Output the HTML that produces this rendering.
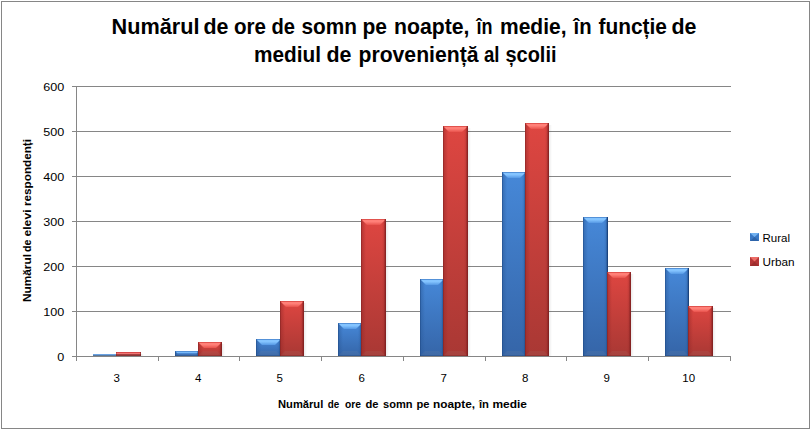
<!DOCTYPE html>
<html><head><meta charset="utf-8"><style>
html,body{margin:0;padding:0;background:#fff;width:811px;height:430px;overflow:hidden}
svg{display:block}
</style></head><body>
<svg width="811" height="430" viewBox="0 0 811 430">
<defs><linearGradient id="bbody" x1="0" y1="0" x2="0" y2="1"><stop offset="0" stop-color="#4688d8"/><stop offset="1" stop-color="#3565a8"/></linearGradient><linearGradient id="bleft" x1="0" y1="0" x2="1" y2="0"><stop offset="0" stop-color="#2a5a9a" stop-opacity="0.6"/><stop offset="1" stop-color="#2a5a9a" stop-opacity="0"/></linearGradient><linearGradient id="bright" x1="0" y1="0" x2="1" y2="0"><stop offset="0" stop-color="#2a5a9a" stop-opacity="0"/><stop offset="1" stop-color="#2a5a9a" stop-opacity="0.6"/></linearGradient><linearGradient id="bbev" x1="0" y1="0" x2="0" y2="1"><stop offset="0" stop-color="#84c4ff"/><stop offset="0.45" stop-color="#84c4ff"/><stop offset="1" stop-color="#5598e4"/></linearGradient><linearGradient id="rbody" x1="0" y1="0" x2="0" y2="1"><stop offset="0" stop-color="#de4641"/><stop offset="1" stop-color="#a93834"/></linearGradient><linearGradient id="rleft" x1="0" y1="0" x2="1" y2="0"><stop offset="0" stop-color="#962828" stop-opacity="0.6"/><stop offset="1" stop-color="#962828" stop-opacity="0"/></linearGradient><linearGradient id="rright" x1="0" y1="0" x2="1" y2="0"><stop offset="0" stop-color="#962828" stop-opacity="0"/><stop offset="1" stop-color="#962828" stop-opacity="0.6"/></linearGradient><linearGradient id="rbev" x1="0" y1="0" x2="0" y2="1"><stop offset="0" stop-color="#ff8078"/><stop offset="0.45" stop-color="#ff8078"/><stop offset="1" stop-color="#e8524c"/></linearGradient><linearGradient id="shadow" x1="0" y1="0" x2="1" y2="0"><stop offset="0" stop-color="#000" stop-opacity="0.08"/><stop offset="1" stop-color="#000" stop-opacity="0"/></linearGradient></defs>
<rect x="0" y="0" width="811" height="430" fill="#fff"/>
<rect x="1.5" y="1.5" width="808" height="427" fill="none" stroke="#868686" stroke-width="1"/>
<rect x="72" y="86" width="659" height="1" fill="#868686"/>
<rect x="72" y="131" width="659" height="1" fill="#868686"/>
<rect x="72" y="176" width="659" height="1" fill="#868686"/>
<rect x="72" y="221" width="659" height="1" fill="#868686"/>
<rect x="72" y="266" width="659" height="1" fill="#868686"/>
<rect x="72" y="311" width="659" height="1" fill="#868686"/>
<rect x="72" y="356" width="659" height="1" fill="#868686"/>
<rect x="76" y="86" width="1" height="275" fill="#868686"/>
<rect x="76" y="356" width="1" height="5" fill="#868686"/>
<rect x="158" y="356" width="1" height="5" fill="#868686"/>
<rect x="239" y="356" width="1" height="5" fill="#868686"/>
<rect x="321" y="356" width="1" height="5" fill="#868686"/>
<rect x="403" y="356" width="1" height="5" fill="#868686"/>
<rect x="485" y="356" width="1" height="5" fill="#868686"/>
<rect x="566" y="356" width="1" height="5" fill="#868686"/>
<rect x="648" y="356" width="1" height="5" fill="#868686"/>
<rect x="730" y="356" width="1" height="5" fill="#868686"/>
<rect x="141" y="354" width="3" height="2" fill="url(#shadow)"/>
<rect x="222" y="344" width="3" height="12" fill="url(#shadow)"/>
<rect x="304" y="303" width="3" height="53" fill="url(#shadow)"/>
<rect x="386" y="221" width="3" height="135" fill="url(#shadow)"/>
<rect x="468" y="128" width="3" height="228" fill="url(#shadow)"/>
<rect x="549" y="125" width="3" height="231" fill="url(#shadow)"/>
<rect x="631" y="274" width="3" height="82" fill="url(#shadow)"/>
<rect x="713" y="308" width="3" height="48" fill="url(#shadow)"/>
<rect x="93" y="354" width="24" height="1" fill="#6aa2e2"/><rect x="93" y="355" width="24" height="1" fill="#56789e"/>
<rect x="116" y="352" width="25" height="1" fill="#d84848"/><rect x="116" y="353" width="25" height="1" fill="#f27474"/><rect x="116" y="354" width="25" height="1" fill="#a44040"/><rect x="116" y="355" width="25" height="1" fill="#8a3434"/><rect x="140" y="352" width="1" height="4" fill="#741c1c" fill-opacity="0.6"/><rect x="116" y="352" width="1" height="4" fill="#741c1c" fill-opacity="0.3"/>
<rect x="175" y="351" width="24" height="5" fill="url(#bbody)"/><rect x="175" y="351" width="5" height="5" fill="url(#bleft)"/><rect x="195" y="351" width="4" height="5" fill="url(#bright)"/><polygon points="175,351 199,351 196.5,353.5 177.5,353.5" fill="url(#bbev)"/><rect x="175" y="351" width="24" height="1" fill="#3f7cc8" fill-opacity="0.7"/><polygon points="175,356 199,356 197.33333333333334,354.3333333333333 176.66666666666666,354.3333333333333" fill="#a0a0a0" fill-opacity="0.10"/><rect x="175" y="355" width="24" height="1" fill="#183f78" fill-opacity="0.35"/><rect x="198" y="351" width="1" height="5" fill="#183f78" fill-opacity="0.9"/><rect x="197" y="351" width="1" height="5" fill="#183f78" fill-opacity="0.25"/><rect x="175" y="351" width="1" height="5" fill="#183f78" fill-opacity="0.35"/>
<rect x="198" y="342" width="24" height="14" fill="url(#rbody)"/><rect x="198" y="342" width="5" height="14" fill="url(#rleft)"/><rect x="218" y="342" width="4" height="14" fill="url(#rright)"/><polygon points="198,342 222,342 216,348 204,348" fill="url(#rbev)"/><rect x="198" y="342" width="24" height="1" fill="#d43e3a" fill-opacity="0.7"/><polygon points="198,356 222,356 217.33333333333334,351.3333333333333 202.66666666666666,351.3333333333333" fill="#a0a0a0" fill-opacity="0.10"/><rect x="198" y="355" width="24" height="1" fill="#741c1c" fill-opacity="0.35"/><rect x="221" y="342" width="1" height="14" fill="#741c1c" fill-opacity="0.65"/><rect x="220" y="342" width="1" height="14" fill="#741c1c" fill-opacity="0.25"/><rect x="198" y="342" width="1" height="14" fill="#741c1c" fill-opacity="0.35"/>
<rect x="256" y="339" width="25" height="17" fill="url(#bbody)"/><rect x="256" y="339" width="5" height="17" fill="url(#bleft)"/><rect x="277" y="339" width="4" height="17" fill="url(#bright)"/><polygon points="256,339 281,339 275,345 262,345" fill="url(#bbev)"/><rect x="256" y="339" width="25" height="1" fill="#3f7cc8" fill-opacity="0.7"/><polygon points="256,356 281,356 276,351 261,351" fill="#a0a0a0" fill-opacity="0.10"/><rect x="256" y="355" width="25" height="1" fill="#183f78" fill-opacity="0.35"/><rect x="280" y="339" width="1" height="17" fill="#183f78" fill-opacity="0.9"/><rect x="279" y="339" width="1" height="17" fill="#183f78" fill-opacity="0.25"/><rect x="256" y="339" width="1" height="17" fill="#183f78" fill-opacity="0.35"/>
<rect x="280" y="301" width="24" height="55" fill="url(#rbody)"/><rect x="280" y="301" width="5" height="55" fill="url(#rleft)"/><rect x="300" y="301" width="4" height="55" fill="url(#rright)"/><polygon points="280,301 304,301 298,307 286,307" fill="url(#rbev)"/><rect x="280" y="301" width="24" height="1" fill="#d43e3a" fill-opacity="0.7"/><polygon points="280,356 304,356 299,351 285,351" fill="#a0a0a0" fill-opacity="0.10"/><rect x="280" y="355" width="24" height="1" fill="#741c1c" fill-opacity="0.35"/><rect x="303" y="301" width="1" height="55" fill="#741c1c" fill-opacity="0.65"/><rect x="302" y="301" width="1" height="55" fill="#741c1c" fill-opacity="0.25"/><rect x="280" y="301" width="1" height="55" fill="#741c1c" fill-opacity="0.35"/>
<rect x="338" y="323" width="24" height="33" fill="url(#bbody)"/><rect x="338" y="323" width="5" height="33" fill="url(#bleft)"/><rect x="358" y="323" width="4" height="33" fill="url(#bright)"/><polygon points="338,323 362,323 356,329 344,329" fill="url(#bbev)"/><rect x="338" y="323" width="24" height="1" fill="#3f7cc8" fill-opacity="0.7"/><polygon points="338,356 362,356 357,351 343,351" fill="#a0a0a0" fill-opacity="0.10"/><rect x="338" y="355" width="24" height="1" fill="#183f78" fill-opacity="0.35"/><rect x="361" y="323" width="1" height="33" fill="#183f78" fill-opacity="0.9"/><rect x="360" y="323" width="1" height="33" fill="#183f78" fill-opacity="0.25"/><rect x="338" y="323" width="1" height="33" fill="#183f78" fill-opacity="0.35"/>
<rect x="361" y="219" width="25" height="137" fill="url(#rbody)"/><rect x="361" y="219" width="5" height="137" fill="url(#rleft)"/><rect x="382" y="219" width="4" height="137" fill="url(#rright)"/><polygon points="361,219 386,219 380,225 367,225" fill="url(#rbev)"/><rect x="361" y="219" width="25" height="1" fill="#d43e3a" fill-opacity="0.7"/><polygon points="361,356 386,356 381,351 366,351" fill="#a0a0a0" fill-opacity="0.10"/><rect x="361" y="355" width="25" height="1" fill="#741c1c" fill-opacity="0.35"/><rect x="385" y="219" width="1" height="137" fill="#741c1c" fill-opacity="0.65"/><rect x="384" y="219" width="1" height="137" fill="#741c1c" fill-opacity="0.25"/><rect x="361" y="219" width="1" height="137" fill="#741c1c" fill-opacity="0.35"/>
<rect x="420" y="279" width="24" height="77" fill="url(#bbody)"/><rect x="420" y="279" width="5" height="77" fill="url(#bleft)"/><rect x="440" y="279" width="4" height="77" fill="url(#bright)"/><polygon points="420,279 444,279 438,285 426,285" fill="url(#bbev)"/><rect x="420" y="279" width="24" height="1" fill="#3f7cc8" fill-opacity="0.7"/><polygon points="420,356 444,356 439,351 425,351" fill="#a0a0a0" fill-opacity="0.10"/><rect x="420" y="355" width="24" height="1" fill="#183f78" fill-opacity="0.35"/><rect x="443" y="279" width="1" height="77" fill="#183f78" fill-opacity="0.9"/><rect x="442" y="279" width="1" height="77" fill="#183f78" fill-opacity="0.25"/><rect x="420" y="279" width="1" height="77" fill="#183f78" fill-opacity="0.35"/>
<rect x="443" y="126" width="25" height="230" fill="url(#rbody)"/><rect x="443" y="126" width="5" height="230" fill="url(#rleft)"/><rect x="464" y="126" width="4" height="230" fill="url(#rright)"/><polygon points="443,126 468,126 462,132 449,132" fill="url(#rbev)"/><rect x="443" y="126" width="25" height="1" fill="#d43e3a" fill-opacity="0.7"/><polygon points="443,356 468,356 463,351 448,351" fill="#a0a0a0" fill-opacity="0.10"/><rect x="443" y="355" width="25" height="1" fill="#741c1c" fill-opacity="0.35"/><rect x="467" y="126" width="1" height="230" fill="#741c1c" fill-opacity="0.65"/><rect x="466" y="126" width="1" height="230" fill="#741c1c" fill-opacity="0.25"/><rect x="443" y="126" width="1" height="230" fill="#741c1c" fill-opacity="0.35"/>
<rect x="502" y="172" width="24" height="184" fill="url(#bbody)"/><rect x="502" y="172" width="5" height="184" fill="url(#bleft)"/><rect x="522" y="172" width="4" height="184" fill="url(#bright)"/><polygon points="502,172 526,172 520,178 508,178" fill="url(#bbev)"/><rect x="502" y="172" width="24" height="1" fill="#3f7cc8" fill-opacity="0.7"/><polygon points="502,356 526,356 521,351 507,351" fill="#a0a0a0" fill-opacity="0.10"/><rect x="502" y="355" width="24" height="1" fill="#183f78" fill-opacity="0.35"/><rect x="525" y="172" width="1" height="184" fill="#183f78" fill-opacity="0.9"/><rect x="524" y="172" width="1" height="184" fill="#183f78" fill-opacity="0.25"/><rect x="502" y="172" width="1" height="184" fill="#183f78" fill-opacity="0.35"/>
<rect x="525" y="123" width="24" height="233" fill="url(#rbody)"/><rect x="525" y="123" width="5" height="233" fill="url(#rleft)"/><rect x="545" y="123" width="4" height="233" fill="url(#rright)"/><polygon points="525,123 549,123 543,129 531,129" fill="url(#rbev)"/><rect x="525" y="123" width="24" height="1" fill="#d43e3a" fill-opacity="0.7"/><polygon points="525,356 549,356 544,351 530,351" fill="#a0a0a0" fill-opacity="0.10"/><rect x="525" y="355" width="24" height="1" fill="#741c1c" fill-opacity="0.35"/><rect x="548" y="123" width="1" height="233" fill="#741c1c" fill-opacity="0.65"/><rect x="547" y="123" width="1" height="233" fill="#741c1c" fill-opacity="0.25"/><rect x="525" y="123" width="1" height="233" fill="#741c1c" fill-opacity="0.35"/>
<rect x="583" y="217" width="25" height="139" fill="url(#bbody)"/><rect x="583" y="217" width="5" height="139" fill="url(#bleft)"/><rect x="604" y="217" width="4" height="139" fill="url(#bright)"/><polygon points="583,217 608,217 602,223 589,223" fill="url(#bbev)"/><rect x="583" y="217" width="25" height="1" fill="#3f7cc8" fill-opacity="0.7"/><polygon points="583,356 608,356 603,351 588,351" fill="#a0a0a0" fill-opacity="0.10"/><rect x="583" y="355" width="25" height="1" fill="#183f78" fill-opacity="0.35"/><rect x="607" y="217" width="1" height="139" fill="#183f78" fill-opacity="0.9"/><rect x="606" y="217" width="1" height="139" fill="#183f78" fill-opacity="0.25"/><rect x="583" y="217" width="1" height="139" fill="#183f78" fill-opacity="0.35"/>
<rect x="607" y="272" width="24" height="84" fill="url(#rbody)"/><rect x="607" y="272" width="5" height="84" fill="url(#rleft)"/><rect x="627" y="272" width="4" height="84" fill="url(#rright)"/><polygon points="607,272 631,272 625,278 613,278" fill="url(#rbev)"/><rect x="607" y="272" width="24" height="1" fill="#d43e3a" fill-opacity="0.7"/><polygon points="607,356 631,356 626,351 612,351" fill="#a0a0a0" fill-opacity="0.10"/><rect x="607" y="355" width="24" height="1" fill="#741c1c" fill-opacity="0.35"/><rect x="630" y="272" width="1" height="84" fill="#741c1c" fill-opacity="0.65"/><rect x="629" y="272" width="1" height="84" fill="#741c1c" fill-opacity="0.25"/><rect x="607" y="272" width="1" height="84" fill="#741c1c" fill-opacity="0.35"/>
<rect x="665" y="268" width="24" height="88" fill="url(#bbody)"/><rect x="665" y="268" width="5" height="88" fill="url(#bleft)"/><rect x="685" y="268" width="4" height="88" fill="url(#bright)"/><polygon points="665,268 689,268 683,274 671,274" fill="url(#bbev)"/><rect x="665" y="268" width="24" height="1" fill="#3f7cc8" fill-opacity="0.7"/><polygon points="665,356 689,356 684,351 670,351" fill="#a0a0a0" fill-opacity="0.10"/><rect x="665" y="355" width="24" height="1" fill="#183f78" fill-opacity="0.35"/><rect x="688" y="268" width="1" height="88" fill="#183f78" fill-opacity="0.9"/><rect x="687" y="268" width="1" height="88" fill="#183f78" fill-opacity="0.25"/><rect x="665" y="268" width="1" height="88" fill="#183f78" fill-opacity="0.35"/>
<rect x="688" y="306" width="25" height="50" fill="url(#rbody)"/><rect x="688" y="306" width="5" height="50" fill="url(#rleft)"/><rect x="709" y="306" width="4" height="50" fill="url(#rright)"/><polygon points="688,306 713,306 707,312 694,312" fill="url(#rbev)"/><rect x="688" y="306" width="25" height="1" fill="#d43e3a" fill-opacity="0.7"/><polygon points="688,356 713,356 708,351 693,351" fill="#a0a0a0" fill-opacity="0.10"/><rect x="688" y="355" width="25" height="1" fill="#741c1c" fill-opacity="0.35"/><rect x="712" y="306" width="1" height="50" fill="#741c1c" fill-opacity="0.65"/><rect x="711" y="306" width="1" height="50" fill="#741c1c" fill-opacity="0.25"/><rect x="688" y="306" width="1" height="50" fill="#741c1c" fill-opacity="0.35"/>
<text x="43.3" y="91" textLength="21" lengthAdjust="spacingAndGlyphs" style="font-family:'Liberation Sans',sans-serif;font-size:11.5px" fill="#000">600</text>
<text x="43.3" y="136" textLength="21" lengthAdjust="spacingAndGlyphs" style="font-family:'Liberation Sans',sans-serif;font-size:11.5px" fill="#000">500</text>
<text x="43.3" y="181" textLength="21" lengthAdjust="spacingAndGlyphs" style="font-family:'Liberation Sans',sans-serif;font-size:11.5px" fill="#000">400</text>
<text x="43.3" y="226" textLength="21" lengthAdjust="spacingAndGlyphs" style="font-family:'Liberation Sans',sans-serif;font-size:11.5px" fill="#000">300</text>
<text x="43.3" y="271" textLength="21" lengthAdjust="spacingAndGlyphs" style="font-family:'Liberation Sans',sans-serif;font-size:11.5px" fill="#000">200</text>
<text x="43.3" y="316" textLength="21" lengthAdjust="spacingAndGlyphs" style="font-family:'Liberation Sans',sans-serif;font-size:11.5px" fill="#000">100</text>
<text x="57.3" y="361" textLength="7" lengthAdjust="spacingAndGlyphs" style="font-family:'Liberation Sans',sans-serif;font-size:11.5px" fill="#000">0</text>
<text x="116.70" y="382" text-anchor="middle" style="font-family:'Liberation Sans',sans-serif;font-size:11.5px" fill="#000">3</text>
<text x="198.20" y="382" text-anchor="middle" style="font-family:'Liberation Sans',sans-serif;font-size:11.5px" fill="#000">4</text>
<text x="279.70" y="382" text-anchor="middle" style="font-family:'Liberation Sans',sans-serif;font-size:11.5px" fill="#000">5</text>
<text x="361.70" y="382" text-anchor="middle" style="font-family:'Liberation Sans',sans-serif;font-size:11.5px" fill="#000">6</text>
<text x="443.70" y="382" text-anchor="middle" style="font-family:'Liberation Sans',sans-serif;font-size:11.5px" fill="#000">7</text>
<text x="525.20" y="382" text-anchor="middle" style="font-family:'Liberation Sans',sans-serif;font-size:11.5px" fill="#000">8</text>
<text x="606.70" y="382" text-anchor="middle" style="font-family:'Liberation Sans',sans-serif;font-size:11.5px" fill="#000">9</text>
<text x="688.70" y="382" text-anchor="middle" style="font-family:'Liberation Sans',sans-serif;font-size:11.5px" fill="#000">10</text>
<text x="111.5" y="33.5" textLength="88.0" lengthAdjust="spacingAndGlyphs" style="font-family:'Liberation Sans',sans-serif;font-size:21.5px;font-weight:bold" fill="#000">Numărul</text>
<text x="203.5" y="33.5" textLength="25.0" lengthAdjust="spacingAndGlyphs" style="font-family:'Liberation Sans',sans-serif;font-size:21.5px;font-weight:bold" fill="#000">de</text>
<text x="234.0" y="33.5" textLength="32.0" lengthAdjust="spacingAndGlyphs" style="font-family:'Liberation Sans',sans-serif;font-size:21.5px;font-weight:bold" fill="#000">ore</text>
<text x="271.5" y="33.5" textLength="23.5" lengthAdjust="spacingAndGlyphs" style="font-family:'Liberation Sans',sans-serif;font-size:21.5px;font-weight:bold" fill="#000">de</text>
<text x="301.5" y="33.5" textLength="55.5" lengthAdjust="spacingAndGlyphs" style="font-family:'Liberation Sans',sans-serif;font-size:21.5px;font-weight:bold" fill="#000">somn</text>
<text x="362.5" y="33.5" textLength="24.5" lengthAdjust="spacingAndGlyphs" style="font-family:'Liberation Sans',sans-serif;font-size:21.5px;font-weight:bold" fill="#000">pe</text>
<text x="394.0" y="33.5" textLength="75.5" lengthAdjust="spacingAndGlyphs" style="font-family:'Liberation Sans',sans-serif;font-size:21.5px;font-weight:bold" fill="#000">noapte,</text>
<text x="476.5" y="33.5" textLength="16.0" lengthAdjust="spacingAndGlyphs" style="font-family:'Liberation Sans',sans-serif;font-size:21.5px;font-weight:bold" fill="#000">în</text>
<text x="500.0" y="33.5" textLength="66.5" lengthAdjust="spacingAndGlyphs" style="font-family:'Liberation Sans',sans-serif;font-size:21.5px;font-weight:bold" fill="#000">medie,</text>
<text x="573.5" y="33.5" textLength="18.0" lengthAdjust="spacingAndGlyphs" style="font-family:'Liberation Sans',sans-serif;font-size:21.5px;font-weight:bold" fill="#000">în</text>
<text x="598.5" y="33.5" textLength="68.5" lengthAdjust="spacingAndGlyphs" style="font-family:'Liberation Sans',sans-serif;font-size:21.5px;font-weight:bold" fill="#000">funcție</text>
<text x="671.5" y="33.5" textLength="25.0" lengthAdjust="spacingAndGlyphs" style="font-family:'Liberation Sans',sans-serif;font-size:21.5px;font-weight:bold" fill="#000">de</text>
<text x="254.0" y="62.0" textLength="67.0" lengthAdjust="spacingAndGlyphs" style="font-family:'Liberation Sans',sans-serif;font-size:21.5px;font-weight:bold" fill="#000">mediul</text>
<text x="326.5" y="62.0" textLength="25.0" lengthAdjust="spacingAndGlyphs" style="font-family:'Liberation Sans',sans-serif;font-size:21.5px;font-weight:bold" fill="#000">de</text>
<text x="358.5" y="62.0" textLength="120.0" lengthAdjust="spacingAndGlyphs" style="font-family:'Liberation Sans',sans-serif;font-size:21.5px;font-weight:bold" fill="#000">proveniență</text>
<text x="484.0" y="62.0" textLength="15.5" lengthAdjust="spacingAndGlyphs" style="font-family:'Liberation Sans',sans-serif;font-size:21.5px;font-weight:bold" fill="#000">al</text>
<text x="505.5" y="62.0" textLength="51.0" lengthAdjust="spacingAndGlyphs" style="font-family:'Liberation Sans',sans-serif;font-size:21.5px;font-weight:bold" fill="#000">școlii</text>
<text x="278.0" y="408" textLength="45.3" lengthAdjust="spacingAndGlyphs" style="font-family:'Liberation Sans',sans-serif;font-size:11.5px;font-weight:bold" fill="#000">Numărul</text>
<text x="327.8" y="408" textLength="11.5" lengthAdjust="spacingAndGlyphs" style="font-family:'Liberation Sans',sans-serif;font-size:11.5px;font-weight:bold" fill="#000">de</text>
<text x="345.0" y="408" textLength="16.0" lengthAdjust="spacingAndGlyphs" style="font-family:'Liberation Sans',sans-serif;font-size:11.5px;font-weight:bold" fill="#000">ore</text>
<text x="365.5" y="408" textLength="13.0" lengthAdjust="spacingAndGlyphs" style="font-family:'Liberation Sans',sans-serif;font-size:11.5px;font-weight:bold" fill="#000">de</text>
<text x="383.0" y="408" textLength="29.5" lengthAdjust="spacingAndGlyphs" style="font-family:'Liberation Sans',sans-serif;font-size:11.5px;font-weight:bold" fill="#000">somn</text>
<text x="416.5" y="408" textLength="13.0" lengthAdjust="spacingAndGlyphs" style="font-family:'Liberation Sans',sans-serif;font-size:11.5px;font-weight:bold" fill="#000">pe</text>
<text x="433.0" y="408" textLength="42.0" lengthAdjust="spacingAndGlyphs" style="font-family:'Liberation Sans',sans-serif;font-size:11.5px;font-weight:bold" fill="#000">noapte,</text>
<text x="479.0" y="408" textLength="10.0" lengthAdjust="spacingAndGlyphs" style="font-family:'Liberation Sans',sans-serif;font-size:11.5px;font-weight:bold" fill="#000">în</text>
<text x="492.5" y="408" textLength="34.5" lengthAdjust="spacingAndGlyphs" style="font-family:'Liberation Sans',sans-serif;font-size:11.5px;font-weight:bold" fill="#000">medie</text>
<text transform="translate(31,302.0) rotate(-90)" x="0" y="0" textLength="48.0" lengthAdjust="spacingAndGlyphs" style="font-family:'Liberation Sans',sans-serif;font-size:11.5px;font-weight:bold" fill="#000">Numărul</text>
<text transform="translate(31,252.0) rotate(-90)" x="0" y="0" textLength="12.5" lengthAdjust="spacingAndGlyphs" style="font-family:'Liberation Sans',sans-serif;font-size:11.5px;font-weight:bold" fill="#000">de</text>
<text transform="translate(31,236.5) rotate(-90)" x="0" y="0" textLength="27.0" lengthAdjust="spacingAndGlyphs" style="font-family:'Liberation Sans',sans-serif;font-size:11.5px;font-weight:bold" fill="#000">elevi</text>
<text transform="translate(31,206.0) rotate(-90)" x="0" y="0" textLength="67.0" lengthAdjust="spacingAndGlyphs" style="font-family:'Liberation Sans',sans-serif;font-size:11.5px;font-weight:bold" fill="#000">respondenți</text>
<rect x="750" y="233" width="9" height="8" fill="#3a78c4"/><polygon points="750,233 759,233 754.5,237.0" fill="#84c4ff" fill-opacity="0.75"/><polygon points="750,241 759,241 754.5,237.0" fill="#183f78" fill-opacity="0.35"/>
<rect x="750" y="257" width="9" height="9" fill="#b43636"/><polygon points="750,257 759,257 754.5,261.5" fill="#ff8078" fill-opacity="0.75"/><polygon points="750,266 759,266 754.5,261.5" fill="#741c1c" fill-opacity="0.35"/>
<text x="762.5" y="242" textLength="27.5" lengthAdjust="spacingAndGlyphs" style="font-family:'Liberation Sans',sans-serif;font-size:11.5px" fill="#000">Rural</text>
<text x="762.5" y="266" textLength="32" lengthAdjust="spacingAndGlyphs" style="font-family:'Liberation Sans',sans-serif;font-size:11.5px" fill="#000">Urban</text>
</svg>
</body></html>
